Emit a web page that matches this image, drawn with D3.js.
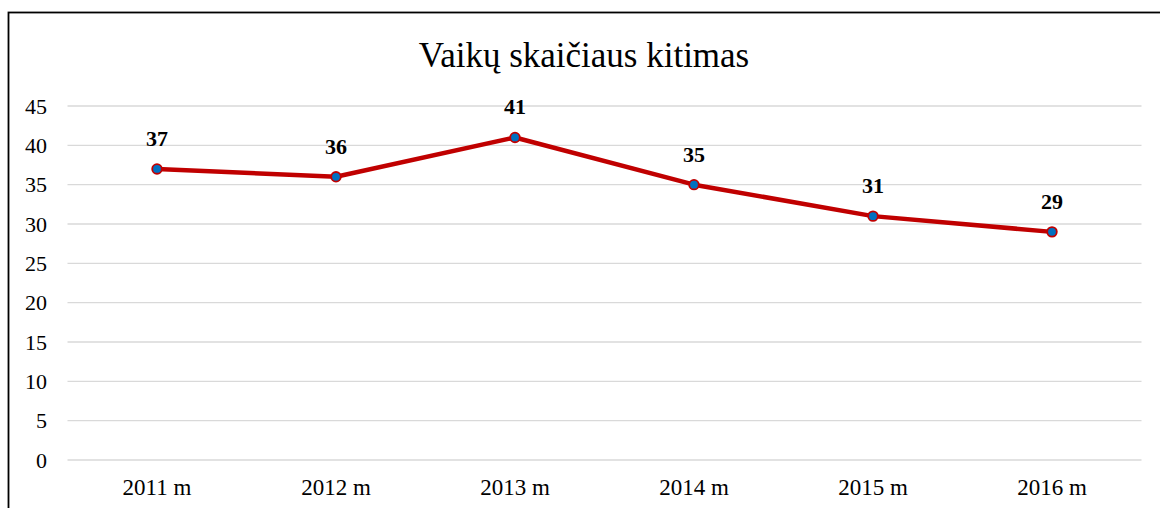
<!DOCTYPE html>
<meta charset="utf-8">
<script src="https://d3js.org/d3.v7.min.js"></script>
<style>
body { margin: 0; background: #fff; }
text { font-family: "Liberation Serif", "Times New Roman", serif; fill: #000; }
.grid line { stroke: #d9d9d9; stroke-width: 1.3; }
.lbl { font-weight: bold; }
</style>
<body>
<script>
// data
var years = ["2011 m", "2012 m", "2013 m", "2014 m", "2015 m", "2016 m"];
var children = [37, 36, 41, 35, 31, 29];
var yTicks = [0, 5, 10, 15, 20, 25, 30, 35, 40, 45];
var title = "Vaikų skaičiaus kitimas";

var width = 1160,
    height = 508;

var svg = d3.select("body").append("svg")
    .attr("width", width)
    .attr("height", height);

// chart frame
svg.append("rect")
    .attr("x", 8.5).attr("y", 12.5)
    .attr("width", 1160).attr("height", 520)
    .attr("fill", "none")
    .attr("stroke", "#000")
    .attr("stroke-width", 1.8);

var x = d3.scaleBand().domain(years).range([67.5, 1141.5]);
var y = d3.scaleLinear().domain([0, 45]).range([460, 106]);

svg.append("text")
    .attr("x", 584).attr("y", 66.5)
    .attr("text-anchor", "middle")
    .style("font-size", "35px")
    .text(title);

// gridlines
svg.append("g").attr("class", "grid")
  .selectAll("line")
  .data(yTicks)
  .enter().append("line")
    .attr("x1", x.range()[0]).attr("x2", x.range()[1])
    .attr("y1", function(d) { return y(d); })
    .attr("y2", function(d) { return y(d); });

// y tick labels
svg.append("g")
  .selectAll("text")
  .data(yTicks)
  .enter().append("text")
    .attr("x", 47)
    .attr("y", function(d) { return y(d); })
    .attr("dy", "0.35em")
    .attr("text-anchor", "end")
    .style("font-size", "22px")
    .text(function(d) { return d; });

// x labels
svg.append("g")
  .selectAll("text")
  .data(years)
  .enter().append("text")
    .attr("x", function(d) { return x(d) + x.bandwidth() / 2; })
    .attr("y", 495)
    .attr("text-anchor", "middle")
    .style("font-size", "23px")
    .text(function(d) { return d; });

var pts = years.map(function(d, i) { return [x(d) + x.bandwidth() / 2, y(children[i])]; });

svg.append("path")
    .datum(pts)
    .attr("d", d3.line())
    .attr("fill", "none")
    .attr("stroke", "#c00000")
    .attr("stroke-width", 4.5)
    .attr("stroke-linejoin", "round");

svg.append("g")
  .selectAll("circle")
  .data(pts)
  .enter().append("circle")
    .attr("cx", function(d) { return d[0]; })
    .attr("cy", function(d) { return d[1]; })
    .attr("r", 4.8)
    .attr("fill", "#0070c0")
    .attr("stroke", "#c00000")
    .attr("stroke-width", 1.8);

// data labels
svg.append("g")
  .selectAll("text")
  .data(pts)
  .enter().append("text")
    .attr("class", "lbl")
    .attr("x", function(d) { return d[0]; })
    .attr("y", function(d) { return d[1] - 23; })
    .attr("text-anchor", "middle")
    .style("font-size", "22px")
    .text(function(d, i) { return children[i]; });
</script>
</body>
